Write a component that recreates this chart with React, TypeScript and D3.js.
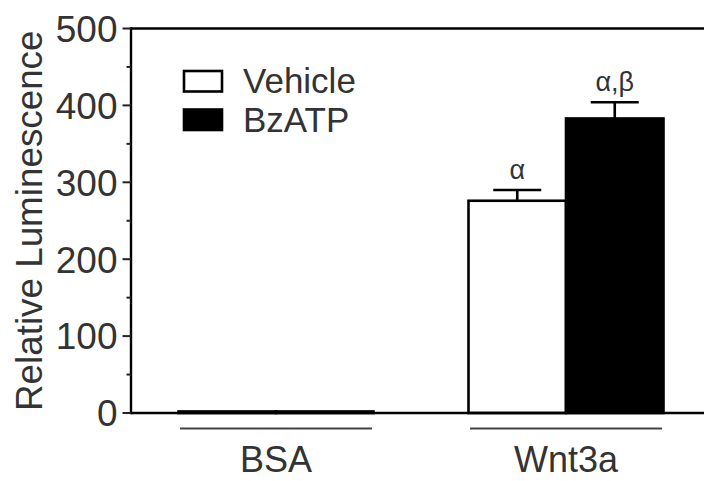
import React from "react";
import * as d3 from "d3";

const groups = ["BSA", "Wnt3a"];
const seriesNames = ["Vehicle", "BzATP"];
const seriesFills = ["#ffffff", "#000000"];
const vehicleValues = [2, 276];
const bzatpValues = [2, 383];
const vehicleErrors = [0, 14];
const bzatpErrors = [0, 21];
const vehicleMarks = ["", "α"];
const bzatpMarks = ["", "α,β"];
const yMajorTicks = [0, 100, 200, 300, 400, 500];
const yMinorTicks = [50, 150, 250, 350, 450];
const yLabel = "Relative Luminescence";

const W = 704;
const H = 481;
const FONT = "'Liberation Sans', Arial, Helvetica, sans-serif";
const TEXT = "#333333";

export default function App() {
  const y = d3.scaleLinear().domain([0, 500]).range([413, 28.5]);
  const x0 = d3
    .scaleBand<string>()
    .domain(groups)
    .range([131, 711])
    .paddingInner(0.3276)
    .paddingOuter(0.1638);
  const x1 = d3.scaleBand<string>().domain(seriesNames).range([0, x0.bandwidth()]).padding(0);

  const valuesBySeries = [vehicleValues, bzatpValues];
  const errorsBySeries = [vehicleErrors, bzatpErrors];
  const marksBySeries = [vehicleMarks, bzatpMarks];
  const axisX = 131;
  const capW = 48;

  return (
    <svg
      width={W}
      height={H}
      style={{ position: "absolute", left: 0, top: 0, background: "#fff" }}
      fontFamily={FONT}
    >
      <rect x={0} y={0} width={W} height={H} fill="#fff" />
      {/* bars */}
      {groups.map((g, gi) =>
        seriesNames.map((s, si) => {
          const v = valuesBySeries[si][gi];
          const bx = (x0(g) ?? 0) + (x1(s) ?? 0);
          const bw = x1.bandwidth();
          return (
            <rect
              key={g + s}
              x={bx}
              y={y(v)}
              width={bw}
              height={y(0) - y(v)}
              fill={seriesFills[si]}
              stroke="#000"
              strokeWidth={2.6}
            />
          );
        })
      )}
      {/* error bars */}
      {groups.map((g, gi) =>
        seriesNames.map((s, si) => {
          const v = valuesBySeries[si][gi];
          const e = errorsBySeries[si][gi];
          if (!e) return null;
          const cx = (x0(g) ?? 0) + (x1(s) ?? 0) + x1.bandwidth() / 2;
          return (
            <g key={"e" + g + s} stroke="#000" strokeWidth={2.6}>
              <line x1={cx} x2={cx} y1={y(v)} y2={y(v + e)} />
              <line x1={cx - capW / 2} x2={cx + capW / 2} y1={y(v + e)} y2={y(v + e)} />
            </g>
          );
        })
      )}
      {/* significance marks */}
      {groups.map((g, gi) =>
        seriesNames.map((s, si) => {
          const m = marksBySeries[si][gi];
          if (!m) return null;
          const v = valuesBySeries[si][gi];
          const e = errorsBySeries[si][gi];
          const cx = (x0(g) ?? 0) + (x1(s) ?? 0) + x1.bandwidth() / 2;
          return (
            <text
              key={"m" + g + s}
              x={cx}
              y={y(v + e) - 11}
              textAnchor="middle"
              fontSize={27}
              fill={TEXT}
            >
              {m}
            </text>
          );
        })
      )}
      {/* frame lines */}
      <line x1={axisX} x2={W} y1={y(0)} y2={y(0)} stroke="#000" strokeWidth={2.6} />
      <line x1={axisX} x2={W} y1={y(500)} y2={y(500)} stroke="#000" strokeWidth={2.4} />
      <line x1={axisX} x2={axisX} y1={y(0) + 1.3} y2={y(500) - 1.2} stroke="#000" strokeWidth={2.4} />
      {/* y ticks */}
      {yMajorTicks.map((t) => (
        <g key={"t" + t}>
          <line x1={axisX - 8.5} x2={axisX} y1={y(t)} y2={y(t)} stroke="#222" strokeWidth={2} />
          <text
            x={117.5}
            y={y(t)}
            dy="0.36em"
            textAnchor="end"
            fontSize={37}
            fill={TEXT}
          >
            {t}
          </text>
        </g>
      ))}
      {yMinorTicks.map((t) => (
        <line key={"m" + t} x1={axisX - 4.5} x2={axisX} y1={y(t)} y2={y(t)} stroke="#222" strokeWidth={2} />
      ))}
      {/* y label */}
      <text
        transform={`translate(42, ${(y(0) + y(500)) / 2}) rotate(-90)`}
        textAnchor="middle"
        fontSize={36.8}
        fill={TEXT}
      >
        {yLabel}
      </text>
      {/* group underlines and labels */}
      {groups.map((g) => {
        const gx = x0(g) ?? 0;
        return (
          <g key={"g" + g}>
            <line
              x1={gx + 1.5}
              x2={gx + x0.bandwidth() - 1.5}
              y1={428.5}
              y2={428.5}
              stroke="#444"
              strokeWidth={2.2}
            />
            <text
              x={gx + x0.bandwidth() / 2}
              y={472}
              textAnchor="middle"
              fontSize={36}
              fill={TEXT}
            >
              {g}
            </text>
          </g>
        );
      })}
      {/* legend */}
      {seriesNames.map((s, si) => (
        <g key={"l" + s} transform={`translate(0, ${si * 38.5})`}>
          <rect x={184} y={71} width={38} height={20.5} fill={seriesFills[si]} stroke="#000" strokeWidth={2.6} />
          <text x={243} y={93} fontSize={35} fill={TEXT}>
            {s}
          </text>
        </g>
      ))}
    </svg>
  );
}
